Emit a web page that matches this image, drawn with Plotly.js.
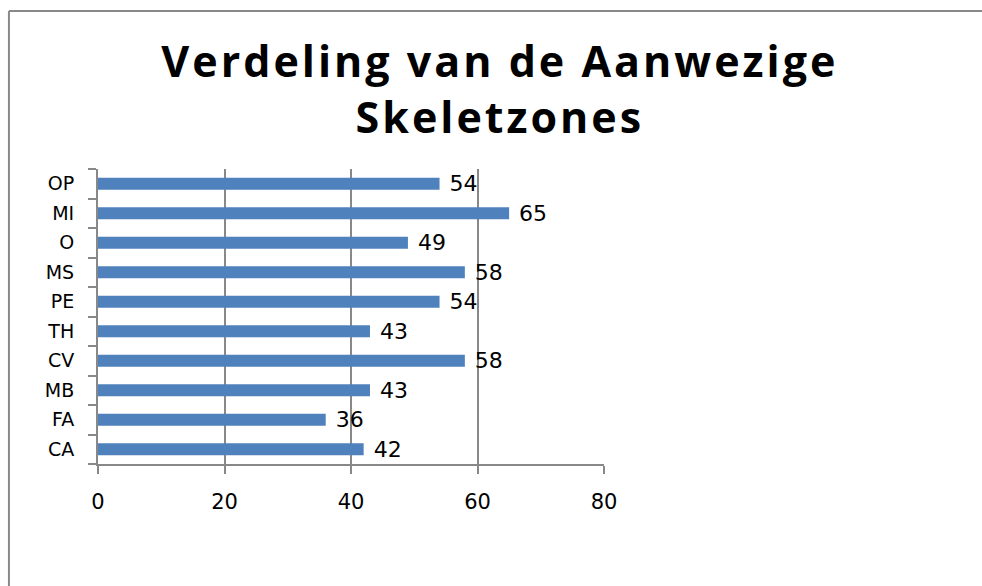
<!DOCTYPE html>
<html>
<head>
<meta charset="utf-8">
<script src="https://cdn.plot.ly/plotly-3.0.1.min.js"></script>
<style>
  body { margin: 0; background: #fff; }
  #chart { width: 982px; height: 586px; }
  .gtitle { letter-spacing: 3px; }
</style>
</head>
<body>
<div id="chart"></div>
<script>
// zones from bottom to top, as in the picture
var zones = ['CA', 'FA', 'MB', 'CV', 'TH', 'PE', 'MS', 'O', 'MI', 'OP'];
var counts = [42, 36, 43, 58, 43, 54, 58, 49, 65, 54];
var xTicks = [0, 20, 40, 60, 80];

var trace = {
    type: 'bar',
    orientation: 'h',
    x: counts,
    y: zones,
    texttemplate: '\u00a0%{x}',
    textposition: 'outside',
    constraintext: 'none',
    cliponaxis: false,
    textfont: { family: 'DejaVu Sans', size: 22, color: '#000' },
    marker: { color: '#4F81BD' },
    hoverinfo: 'x+y'
};

var layout = {
    width: 982,
    height: 586,
    margin: { l: 98, r: 378, t: 169, b: 122 },
    paper_bgcolor: '#fff',
    plot_bgcolor: '#fff',
    showlegend: false,
    bargap: 0.59,
    font: { family: 'DejaVu Sans', color: '#000' },
    title: {
        text: 'Verdeling van de Aanwezige<br>Skeletzones',
        font: { family: 'Open Sans', size: 43, weight: 'bold', color: '#000' },
        x: 0.509,
        xanchor: 'center',
        xref: 'container',
        y: 0.868,
        yanchor: 'top',
        yref: 'container'
    },
    xaxis: {
        range: [0, 80],
        tickvals: xTicks,
        ticks: 'outside',
        ticklen: 8,
        tickwidth: 2,
        tickcolor: '#888',
        tickfont: { family: 'DejaVu Sans', size: 21 },
        ticklabelstandoff: 10,
        showgrid: true,
        gridcolor: '#888',
        gridwidth: 2,
        zeroline: false,
        showline: true,
        linecolor: '#888',
        linewidth: 2,
        fixedrange: true
    },
    yaxis: {
        type: 'category',
        tickson: 'boundaries',
        ticks: 'outside',
        ticklen: 8,
        tickwidth: 2,
        tickcolor: '#888',
        tickfont: { family: 'DejaVu Sans', size: 19 },
        ticklabelstandoff: 18,
        showgrid: false,
        showline: true,
        linecolor: '#888',
        linewidth: 2,
        fixedrange: true
    },
    shapes: [
        { type: 'line', xref: 'paper', yref: 'paper', x0: -0.176, x1: -0.176, y0: 1.536, y1: -0.42, line: { color: '#888', width: 2 } },
        { type: 'line', xref: 'paper', yref: 'paper', x0: -0.176, x1: 1.75, y0: 1.536, y1: 1.536, line: { color: '#888', width: 2 } }
    ]
};

Plotly.newPlot('chart', [trace], layout, { displayModeBar: false, staticPlot: true });
</script>
</body>
</html>
